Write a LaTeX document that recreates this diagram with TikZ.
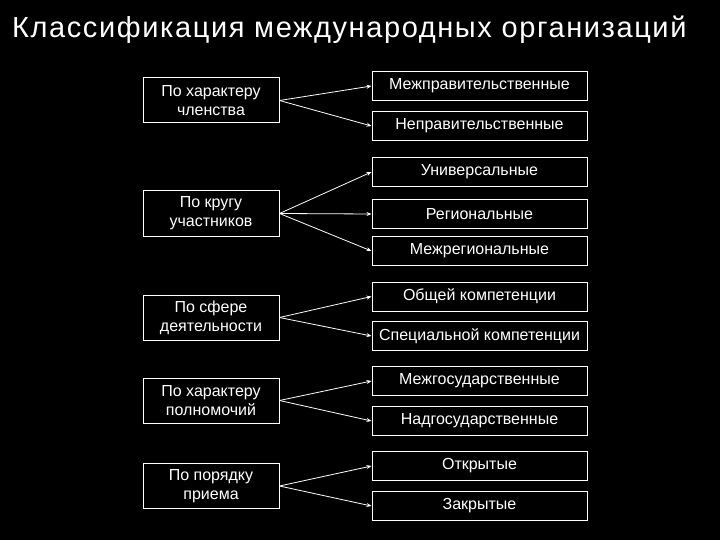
\documentclass[tikz,border=0pt]{standalone}
\usepackage{fontspec}
\setmainfont{Liberation Sans}
\newfontfamily\titlefont[LetterSpace=5.5]{Liberation Sans}
\usetikzlibrary{arrows.meta}
\begin{document}
\begin{tikzpicture}[x=1pt,y=-1pt,
  catbox/.style={draw=white, line width=1pt, text=white, minimum width=136pt, minimum height=45pt, inner sep=0pt, align=center, font=\fontsize{16}{19}\selectfont},
  typebox/.style={draw=white, line width=1pt, text=white, minimum width=215pt, minimum height=29pt, inner sep=0pt, font=\fontsize{16}{19}\selectfont},
  link/.style={draw=white, line width=0.8pt, -{Stealth[length=5pt,width=4pt]}}]
\fill[black] (0,0) rectangle (720,540);
\useasboundingbox (0,0) rectangle (720,540);
\node[text=white, anchor=base west, inner sep=0pt, font=\titlefont\fontsize{29}{32}\selectfont] (title) at (12,38) {Классификация международных организаций};

\node[catbox] (c1) at (211,100.5) {По характеру\\членства};
\node[catbox] (c2) at (211,213.5) {По кругу\\участников};
\node[catbox] (c3) at (211,317.5) {По сфере\\деятельности};
\node[catbox] (c4) at (211,400.5) {По характеру\\полномочий};
\node[catbox] (c5) at (211,486) {По порядку\\приема};

\node[typebox] (t1) at (479.5,86) {Межправительственные};
\node[typebox] (t2) at (479.5,126) {Неправительственные};
\node[typebox] (t3) at (479.5,172) {Универсальные};
\node[typebox] (t4) at (479.5,214) {Региональные};
\node[typebox] (t5) at (479.5,251) {Межрегиональные};
\node[typebox] (t6) at (479.5,296.5) {Общей компетенции};
\node[typebox] (t7) at (479.5,336) {Специальной компетенции};
\node[typebox] (t8) at (479.5,381) {Межгосударственные};
\node[typebox] (t9) at (479.5,421) {Надгосударственные};
\node[typebox] (t10) at (479.5,466) {Открытые};
\node[typebox] (t11) at (479.5,506) {Закрытые};

\draw[link] (c1.east) -- (t1.west);
\draw[link] (c1.east) -- (t2.west);
\draw[link] (c2.east) -- (t3.west);
\draw[link] (c2.east) -- (t4.west);
\draw[link] (c2.east) -- (t5.west);
\draw[link] (c3.east) -- (t6.west);
\draw[link] (c3.east) -- (t7.west);
\draw[link] (c4.east) -- (t8.west);
\draw[link] (c4.east) -- (t9.west);
\draw[link] (c5.east) -- (t10.west);
\draw[link] (c5.east) -- (t11.west);
\end{tikzpicture}
\end{document}
